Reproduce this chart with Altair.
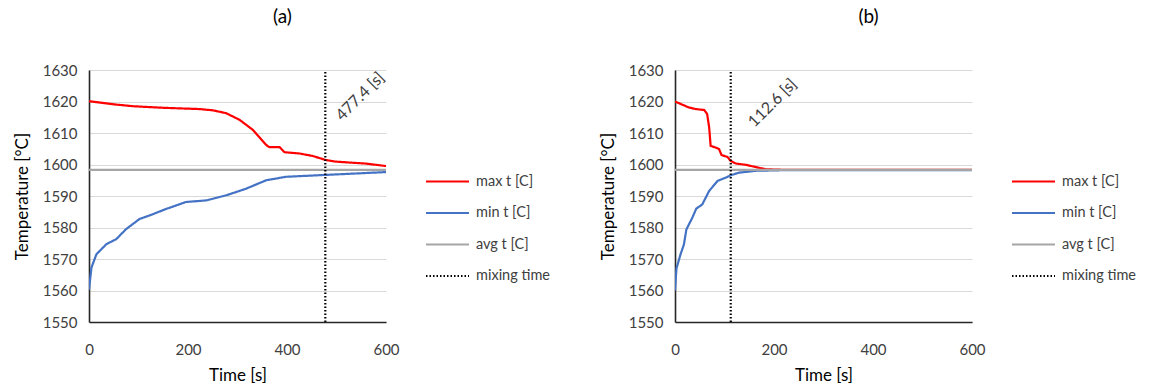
import altair as alt
import pandas as pd

SERIES = ["max t [C]", "min t [C]", "avg t [C]", "mixing time"]
COLORS = ["#FF0000", "#4472C4", "#A5A5A5", "#000000"]

# Panel (a)
a_max_t = [0, 50, 89, 150, 223, 250, 277, 304, 331, 358, 364.5, 385, 395, 425, 452, 479, 499, 559, 600]
a_max_v = [1620.1, 1619.1, 1618.5, 1618.0, 1617.6, 1617.2, 1616.3, 1614.2, 1611.0, 1606.2, 1605.5, 1605.5, 1603.9, 1603.5, 1602.7, 1601.4, 1600.9, 1600.3, 1599.5]
a_min_t = [0, 5, 15, 35, 55, 75, 102, 122, 156, 196, 237, 277, 317, 358, 398, 465, 533, 600]
a_min_v = [1560.3, 1567.3, 1571.5, 1574.7, 1576.3, 1579.5, 1582.7, 1583.8, 1585.9, 1588.1, 1588.6, 1590.2, 1592.3, 1595.0, 1596.1, 1596.6, 1597.1, 1597.6]
a_mix = 477.4

# Panel (b)
b_max_t = [0, 28, 42, 59, 65, 69, 72, 82, 89, 94, 106, 112.6, 123, 143, 163, 183, 220, 600]
b_max_v = [1620.0, 1618.1, 1617.6, 1617.3, 1616.0, 1611.8, 1605.9, 1605.4, 1604.9, 1603.0, 1602.4, 1601.1, 1600.3, 1599.9, 1599.2, 1598.5, 1598.3, 1598.3]
b_min_t = [0, 3, 11, 18, 23, 35, 43, 55, 69, 86, 102, 113, 129, 163, 220, 600]
b_min_v = [1560.0, 1567.0, 1571.4, 1574.6, 1579.4, 1583.1, 1586.0, 1587.3, 1591.6, 1594.8, 1595.8, 1596.6, 1597.4, 1598.0, 1598.2, 1598.2]
b_mix = 112.6

avg_t = [0, 600]
avg_v = [1598.3, 1598.3]
y_range = [1550, 1630]
x_ticks = [0, 200, 400, 600]
y_ticks = [1550, 1560, 1570, 1580, 1590, 1600, 1610, 1620, 1630]


def make_df(max_t, max_v, min_t, min_v, mix):
    rows = []
    for i, (t, v) in enumerate(zip(max_t, max_v)):
        rows.append({"t": t, "v": v, "s": SERIES[0], "o": i})
    for i, (t, v) in enumerate(zip(min_t, min_v)):
        rows.append({"t": t, "v": v, "s": SERIES[1], "o": i})
    for i, (t, v) in enumerate(zip(avg_t, avg_v)):
        rows.append({"t": t, "v": v, "s": SERIES[2], "o": i})
    for i, v in enumerate(y_range):
        rows.append({"t": mix, "v": v, "s": SERIES[3], "o": i})
    return pd.DataFrame(rows)


X_ENC = dict(title="Time [s]",
             scale=alt.Scale(domain=[0, 600], nice=False),
             axis=alt.Axis(values=x_ticks, grid=False, ticks=False, labelFlush=False,
                           labelOverlap=False, labelPadding=20, titlePadding=10, format="d"))
Y_ENC = dict(title="Temperature [°C]",
             scale=alt.Scale(domain=y_range, nice=False, zero=False),
             axis=alt.Axis(values=y_ticks, ticks=False, labelOverlap=False, labelFlush=False,
                           labelPadding=12, titlePadding=11, format="d"))

LEG = dict(orient="none", legendX=336, legendY=89,
           symbolType="stroke", symbolSize=1849,
           symbolStrokeWidth=2, labelFontSize=14.5,
           labelColor="#404040", rowPadding=2.5,
           labelOffset=6, labelFont="Lato")


def panel(title, max_t, max_v, min_t, min_v, mix, label_y, xoff):
    df = make_df(max_t, max_v, min_t, min_v, mix)
    lines = alt.Chart(df).mark_line(clip=True).encode(
        x=alt.X("t:Q", **X_ENC),
        y=alt.Y("v:Q", **Y_ENC),
        color=alt.Color("s:N", scale=alt.Scale(domain=SERIES, range=COLORS),
                        sort=SERIES, title=None, legend=alt.Legend(**LEG)),
        strokeDash=alt.StrokeDash("s:N", scale=alt.Scale(domain=SERIES,
                                  range=[[1, 0], [1, 0], [1, 0], [1.5, 2]]),
                                  sort=SERIES, title=None, legend=alt.Legend(**LEG)),
        strokeWidth=alt.StrokeWidth("s:N", scale=alt.Scale(domain=SERIES, range=[2.2, 2.2, 2, 1.2]),
                                    legend=None),
        order="o:Q",
    )
    lab = alt.Chart(pd.DataFrame({"t": [mix], "v": [label_y],
                                  "txt": [f"{mix} [s]"]})).mark_text(
        angle=315, align="left", baseline="bottom", fontSize=16,
        color="#404040", font="Lato", xOffset=xoff
    ).encode(x=alt.X("t:Q", **X_ENC), y=alt.Y("v:Q", **Y_ENC), text="txt:N")
    return alt.layer(lines, lab).properties(
        width=297, height=252,
        title=alt.TitleParams(title, anchor="middle", dx=45, fontSize=19,
                              fontWeight="normal", font="Lato", color="#000000",
                              offset=36),
    )


pa = panel("(a)", a_max_t, a_max_v, a_min_t, a_min_v, a_mix, 1613.0, 19)
pb = panel("(b)", b_max_t, b_max_v, b_min_t, b_min_v, b_mix, 1610.9, 26)

chart = alt.hconcat(pa, pb, spacing=49).resolve_scale(
    color="independent", strokeDash="independent"
).configure_view(stroke=None).configure_axis(
    labelFont="Lato", titleFont="Lato", labelFontSize=15, titleFontSize=17,
    titleFontWeight="normal", labelColor="#404040", titleColor="#000000",
    gridColor="#D9D9D9", domainColor="#262626", domainWidth=1.6,
).properties(padding={"left": 13, "top": 8, "right": 5, "bottom": 5}, background="white")

chart.save("out.html", embed_options={"renderer": "svg", "actions": False})
